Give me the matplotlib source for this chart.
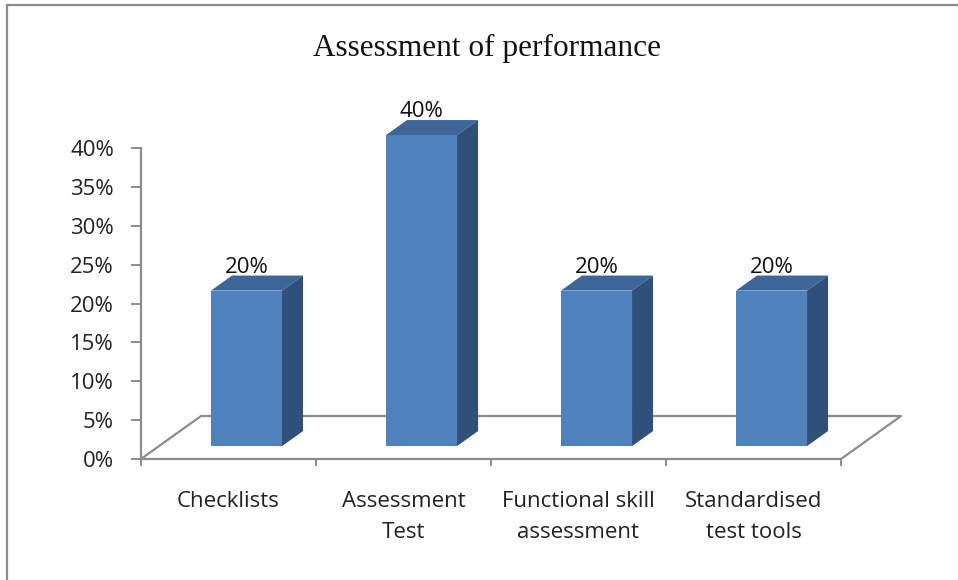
import matplotlib
matplotlib.use('Agg')
import matplotlib.pyplot as plt
from matplotlib.patches import Polygon
from matplotlib.lines import Line2D
import matplotlib.ticker as mticker

categories = ['Checklists', 'Assessment\nTest', 'Functional skill\nassessment', 'Standardised\ntest tools']
values = [20, 40, 20, 20]
value_labels = ['20%', '40%', '20%', '20%']
y_ticks = [0, 5, 10, 15, 20, 25, 30, 35, 40]

# fake 3d look: floor depth offset in data units
DX = 0.343
DY = 5.53
D0, D1 = 0.30, 0.65   # bar front/back position inside floor depth
HALF_W = 0.203

FRONT = '#4F81BD'
TOP = '#3D6597'
SIDE = '#30507A'
GRID = '#8C8C8C'

fig = plt.figure(figsize=(9.58, 5.8), dpi=100)
W, H = 958, 580
ax = fig.add_axes([141 / W, 121 / H, 700 / W, 311 / H])
ax.set_xlim(0, 4)
ax.set_ylim(0, 40)

# floor outline
n = len(categories)
floor = [(0, 0), (n, 0), (n + DX, DY), (DX, DY), (0, 0)]
ax.add_line(Line2D([p[0] for p in floor], [p[1] for p in floor], color=GRID,
                   lw=1.6, clip_on=False, zorder=1))

for i, v in enumerate(values):
    xl = i + 0.5 - HALF_W
    xr = i + 0.5 + HALF_W
    fx0, fy0 = D0 * DX, D0 * DY
    bx0, by0 = D1 * DX, D1 * DY
    front = [(xl + fx0, fy0), (xr + fx0, fy0), (xr + fx0, fy0 + v), (xl + fx0, fy0 + v)]
    top = [(xl + fx0, fy0 + v), (xr + fx0, fy0 + v), (xr + bx0, by0 + v), (xl + bx0, by0 + v)]
    side = [(xr + fx0, fy0), (xr + bx0, by0), (xr + bx0, by0 + v), (xr + fx0, fy0 + v)]
    ax.add_patch(Polygon(front, closed=True, fc=FRONT, ec='none', clip_on=False, zorder=3))
    ax.add_patch(Polygon(top, closed=True, fc=TOP, ec='none', clip_on=False, zorder=3))
    ax.add_patch(Polygon(side, closed=True, fc=SIDE, ec='none', clip_on=False, zorder=3))
    ax.text(i + 0.5 + fx0, by0 + v - 0.3, value_labels[i], ha='center', va='bottom',
            fontsize=16, family='Open Sans', color='#111111', zorder=4)

for s in ['top', 'right']:
    ax.spines[s].set_visible(False)
ax.spines['left'].set_color(GRID)
ax.spines['left'].set_linewidth(1.6)
ax.spines['bottom'].set_visible(False)

ax.set_yticks(y_ticks)
ax.yaxis.set_major_formatter(mticker.FuncFormatter(lambda x, p: f'{int(x)}%'))
ax.tick_params(axis='y', length=7.5, width=1.4, color=GRID, pad=12,
               labelsize=16, labelcolor='#222222')
for lab in ax.get_yticklabels():
    lab.set_family('Open Sans')

ax.set_xticks(range(n + 1))
ax.set_xticks([i + 0.5 for i in range(n)], minor=True)
ax.set_xticklabels([''] * (n + 1))
ax.set_xticklabels(categories, minor=True, fontsize=16, family='Open Sans',
                   color='#222222', linespacing=1.6, va='top')
ax.tick_params(axis='x', which='major', length=5, width=1.4, color=GRID, direction='out')
ax.tick_params(axis='x', which='minor', length=0, pad=23)

fig.text(487 / W, 1 - 48 / H, 'Assessment of performance', ha='center', va='center',
         fontsize=22.5, family='Liberation Serif', color='#111111')

# chart frame (top and left edges visible)
fig.add_artist(Line2D([7 / W, 1], [1 - 5 / H, 1 - 5 / H], color=GRID, lw=1.6))
fig.add_artist(Line2D([7 / W, 7 / W], [0, 1 - 5 / H], color=GRID, lw=1.6))

fig.savefig('out.png', dpi=100, facecolor='white')
